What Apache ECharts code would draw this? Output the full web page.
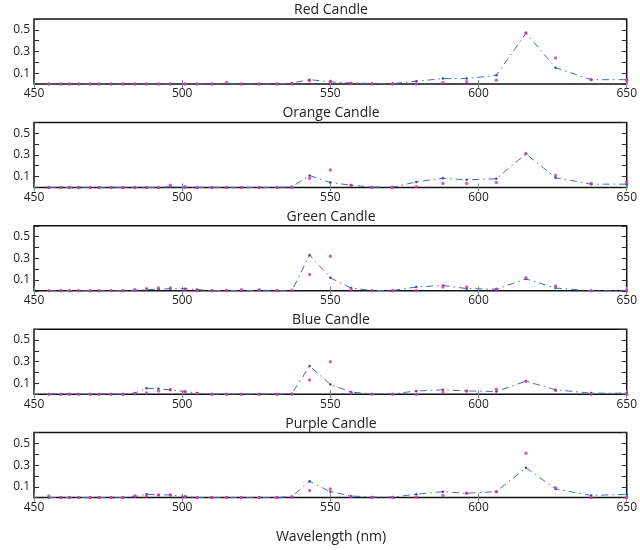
<!DOCTYPE html>
<html><head><meta charset="utf-8">
<script src="https://cdn.jsdelivr.net/npm/echarts@6/dist/echarts.min.js"></script>
<style>html,body{margin:0;padding:0;background:#fff}#c{width:640px;height:550px}</style>
</head><body><div id="c"></div>
<script>
var wavelengths = [455,459,462,465,469,472,476,480,484,488,492,496,501,505,510,515,520,526,532,537,543,550,557,564,571,579,588,596,606,616,626,638,650];
var titles = ['Red Candle','Orange Candle','Green Candle','Blue Candle','Purple Candle'];
var xTicks = [450,500,550,600,650];
var yTicks = [0.1,0.3,0.5];

// blue dash-dot line
var redLine    = [0,0,0,0,0,0,0,0,0,0,0,0,0,0,0,0,0,0,0,0.01,0.04,0.02,0.01,0.005,0.005,0.025,0.05,0.05,0.08,0.47,0.15,0.04,0.04];
var orangeLine = [0,0,0,0,0,0,0,0,0,0,0,0.005,0,0,0,0,0,0,0,0.005,0.11,0.045,0.02,0.003,0.003,0.05,0.085,0.07,0.08,0.31,0.09,0.03,0.03];
var greenLine  = [0,0,0,0,0,0,0,0,0.005,0.01,0.015,0.02,0.02,0.012,0,0.005,0,0.005,0.003,0,0.33,0.12,0.025,0.003,0.003,0.035,0.05,0.02,0.015,0.11,0.025,0,0];
var blueLine   = [0,0,0,0,0,0,0,0,0.01,0.055,0.05,0.04,0.025,0.01,0,0,0,0,0,0.005,0.26,0.09,0.02,0.003,0.003,0.03,0.04,0.03,0.025,0.12,0.04,0.01,0.01];
var purpleLine = [0,0,0,0,0,0,0,0,0.01,0.03,0.025,0.025,0.01,0,0,0,0,0,0,0.01,0.15,0.055,0.015,0.005,0.005,0.03,0.055,0.04,0.055,0.275,0.08,0.02,0.03];

// magenta measured points
var redPts    = [0,0,0,0,0,0,0,0,0,0,0,0,0,0,0,0.015,0,0,0,0,0.03,0.025,0.005,0,0,0,0.015,0.02,0.035,0.47,0.24,0.04,0.035];
var orangePts = [0,0,0,0,0,0,0,0,0,0,0,0.02,0.005,0,0,0,0,0,0,0,0.085,0.16,0.02,0,0,0.005,0.035,0.035,0.045,0.31,0.11,0.035,0.05];
var greenPts  = [0,0,0,0,0,0,0,0,0.01,0.02,0.025,0.025,0.01,0,0,0,0.01,0.01,0,0.005,0.15,0.32,0.01,0,0,0,0.035,0.035,0.015,0.12,0.045,0,0];
var bluePts   = [0,0,0,0,0,0,0,0,0.005,0.01,0.03,0.04,0.02,0.005,0,0,0,0,0,0,0.13,0.30,0.01,0,0,0,0.02,0.03,0.045,0.12,0.035,0,0];
var purplePts = [0.015,0,0,0,0,0,0,0,0.015,0.015,0.025,0.025,0.01,0,0,0,0,0,0,0.005,0.065,0.08,0.01,0,0,0.005,0.02,0.04,0.055,0.41,0.09,0,0];

var lines = [redLine, orangeLine, greenLine, blueLine, purpleLine];
var pts = [redPts, orangePts, greenPts, bluePts, purplePts];

(function () {
  var FONT = 'Open Sans';
  var grids = [], xAxes = [], yAxes = [], series = [], titleArr = [];
  for (var i = 0; i < 5; i++) {
    var gTop = 19 + i * 103.4;
    grids.push({left: 34, right: 11, top: gTop, height: 65, show: true, borderColor: '#111', borderWidth: 1.5, backgroundColor: '#fff'});
    titleArr.push({text: titles[i], left: 331, top: gTop - 16, textAlign: 'center', padding: 0,
      textStyle: {fontFamily: FONT, fontSize: 14, fontWeight: 'normal', color: '#222'}});
    xAxes.push({type: 'value', gridIndex: i, min: 450, max: 650, interval: 50, position: 'bottom',
      axisLine: {show: false}, splitLine: {show: false},
      axisTick: {inside: true, length: 4, lineStyle: {color: '#888'}},
      axisLabel: {margin: 4, fontFamily: FONT, fontSize: 12, color: '#222',
        formatter: function (v) { return xTicks.indexOf(v) >= 0 ? String(v) : ''; }}});
    xAxes.push({type: 'value', gridIndex: i, min: 450, max: 650, interval: 50, position: 'top',
      axisLine: {show: false}, splitLine: {show: false},
      axisTick: {inside: true, length: 4, lineStyle: {color: '#888'}}, axisLabel: {show: false}});
    yAxes.push({type: 'value', gridIndex: i, min: 0, max: 0.6, interval: 0.1, position: 'left',
      axisLine: {show: false}, splitLine: {show: false},
      axisTick: {inside: true, length: 5, lineStyle: {color: '#333'}},
      axisLabel: {margin: 4, fontFamily: FONT, fontSize: 12, color: '#222',
        formatter: function (v) { var r = Math.round(v * 10) / 10; return yTicks.indexOf(r) >= 0 ? r.toFixed(1) : ''; }}});
    yAxes.push({type: 'value', gridIndex: i, min: 0, max: 0.6, interval: 0.1, position: 'right',
      axisLine: {show: false}, splitLine: {show: false},
      axisTick: {inside: true, length: 5, lineStyle: {color: '#333'}}, axisLabel: {show: false}});
    series.push({type: 'line', xAxisIndex: 2 * i, yAxisIndex: 2 * i,
      data: wavelengths.map(function (w, k) { return [w, lines[i][k]]; }),
      symbol: 'circle', symbolSize: 2.5, showSymbol: true, itemStyle: {color: '#2f4fb0'},
      lineStyle: {color: '#4a68c0', width: 1, type: [7, 4, 1.5, 4]}, z: 2, silent: true, animation: false});
    series.push({type: 'scatter', xAxisIndex: 2 * i, yAxisIndex: 2 * i,
      data: wavelengths.map(function (w, k) { return [w, pts[i][k]]; }),
      symbol: 'circle', symbolSize: 3.5, itemStyle: {color: '#c2459c'}, z: 3, silent: true, animation: false});
  }
  titleArr.push({text: 'Wavelength (nm)', left: 331, top: 530, textAlign: 'center', padding: 0,
    textStyle: {fontFamily: FONT, fontSize: 14, fontWeight: 'normal', color: '#222'}});
  var chart = echarts.init(document.getElementById('c'), null, {renderer: 'canvas'});
  chart.setOption({animation: false, backgroundColor: '#fff', title: titleArr, grid: grids, xAxis: xAxes, yAxis: yAxes, series: series});
})();
</script></body></html>
